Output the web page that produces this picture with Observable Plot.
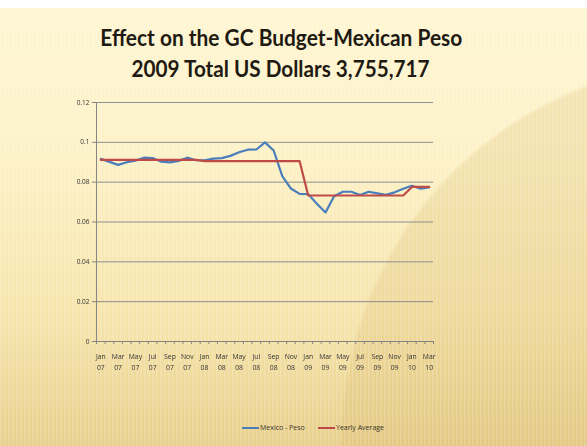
<!DOCTYPE html>
<html>
<head>
<meta charset="utf-8">
<script src="https://cdn.jsdelivr.net/npm/d3@7"></script>
<script src="https://cdn.jsdelivr.net/npm/@observablehq/plot@0.6"></script>
<style>
  html, body { margin: 0; padding: 0; }
  body { width: 587px; height: 446px; overflow: hidden; position: relative; font-family: "Open Sans", sans-serif; -webkit-font-smoothing: antialiased; }
  #bg { position: absolute; left: 0; top: 0; width: 587px; height: 446px;
    background:
      radial-gradient(circle 380px at 720px 440px, rgba(214,182,105,0.28) 0%, rgba(214,182,105,0.24) 99%, rgba(214,182,105,0) 100%),
      linear-gradient(180deg, #fef6d3 0%, #fdf1c6 35%, #f6e4ab 72%, #e8cf8c 100%);
  }
  #stripes { position: absolute; left: 0; top: 0; width: 587px; height: 446px;
    background: repeating-linear-gradient(90deg, rgba(255,255,255,0.18) 0px, rgba(255,255,255,0.18) 1px, rgba(255,255,255,0) 2px, rgba(255,255,255,0) 4px);
  }
  #topwhite { position: absolute; left: 0; top: 0; width: 587px; height: 8px; background: #ffffff; }
  .title { position: absolute; left: 0; width: 562px; text-align: center; font-family: Lato, "Open Sans", sans-serif; font-weight: 700; font-size: 23px; line-height: 23px; color: #1f1a12; white-space: nowrap; }
  .title span { display: inline-block; transform-origin: center; }
  #chart { position: absolute; left: 0; top: 90px; will-change: transform; }
  #chart svg text { fill: #333333; }
  #legend { position: absolute; top: 423px; left: 242px; font-size: 7px; color: #3a3328; height: 10px; }
  .item { position: absolute; top: 0; height: 10px; line-height: 10px; white-space: nowrap; }
  .sw { position: absolute; top: 4px; width: 17px; height: 2.2px; }
  .lbl { position: absolute; left: 18px; top: 0; }
</style>
</head>
<body>
<div id="bg"></div>
<div id="stripes"></div>
<div id="topwhite"></div>
<div class="title" style="top:26px"><span id="t1">Effect on the GC Budget-Mexican Peso</span></div>
<div class="title" style="top:57px"><span id="t2">2009 Total US Dollars 3,755,717</span></div>
<div id="chart"></div>
<div id="legend">
  <div class="item" style="left:0px"><div class="sw" style="background:#4a7ebb"></div><div class="lbl">Mexico - Peso</div></div>
  <div class="item" style="left:76px"><div class="sw" style="background:#be4b48"></div><div class="lbl">Yearly Average</div></div>
</div>
<script>
const months = [
  "Jan 07","Feb 07","Mar 07","Apr 07","May 07","Jun 07","Jul 07","Aug 07","Sep 07","Oct 07","Nov 07","Dec 07",
  "Jan 08","Feb 08","Mar 08","Apr 08","May 08","Jun 08","Jul 08","Aug 08","Sep 08","Oct 08","Nov 08","Dec 08",
  "Jan 09","Feb 09","Mar 09","Apr 09","May 09","Jun 09","Jul 09","Aug 09","Sep 09","Oct 09","Nov 09","Dec 09",
  "Jan 10","Feb 10","Mar 10"
];
const mexicoPeso = [
  0.0917, 0.0902, 0.0887, 0.0900, 0.0908, 0.0923, 0.0921, 0.0903, 0.0899, 0.0907, 0.0923, 0.0910,
  0.0910, 0.0918, 0.0921, 0.0932, 0.0950, 0.0963, 0.0964, 0.1000, 0.0959, 0.0830, 0.0768, 0.0741,
  0.0740, 0.0692, 0.0648, 0.0729, 0.0752, 0.0752, 0.0736, 0.0752, 0.0744, 0.0736, 0.0749, 0.0767,
  0.0782, 0.0767, 0.0774
];
const yearlyAverage = [
  0.0912, 0.0912, 0.0912, 0.0912, 0.0912, 0.0912, 0.0912, 0.0912, 0.0912, 0.0912, 0.0912, 0.0912,
  0.0906, 0.0906, 0.0906, 0.0906, 0.0906, 0.0906, 0.0906, 0.0906, 0.0906, 0.0906, 0.0906, 0.0906,
  0.0733, 0.0733, 0.0733, 0.0733, 0.0733, 0.0733, 0.0733, 0.0733, 0.0733, 0.0733, 0.0733, 0.0733,
  0.0776, 0.0776, 0.0776
];
const yTicks = [0, 0.02, 0.04, 0.06, 0.08, 0.1, 0.12];
const yTickLabels = ["0", "0.02", "0.04", "0.06", "0.08", "0.1", "0.12"];

const data = months.map((m, i) => ({i, month: m, peso: mexicoPeso[i], avg: yearlyAverage[i]}));
const n = months.length;
const boundaries = d3.range(n + 1).map(k => k - 0.5);
const labelIdx = d3.range(0, n, 2);

const chart = Plot.plot({
  width: 587,
  height: 300,
  marginLeft: 96,
  marginRight: 154,
  marginTop: 12,
  marginBottom: 49,
  style: {background: "transparent", fontFamily: "Open Sans", color: "#333"},
  x: {type: "linear", domain: [-0.5, n - 0.5]},
  y: {domain: [0, 0.12]},
  marks: [
    Plot.gridY(yTicks.slice(1), {stroke: "#8e8e8e", strokeOpacity: 1, strokeWidth: 1}),
    Plot.ruleX([-0.5], {stroke: "#868686", strokeWidth: 1}),
    Plot.ruleY([0], {stroke: "#868686", strokeWidth: 1}),
    Plot.axisY(yTicks, {tickSize: 4, tickPadding: 3, stroke: "#868686", fontSize: 6.5, tickFormat: (d, k) => yTickLabels[k], label: null}),
    Plot.axisX(boundaries, {tickSize: 3, stroke: "#868686", tickFormat: () => "", label: null}),
    Plot.axisX(labelIdx, {tickSize: 0, tickPadding: 10, fontSize: 6.8, lineHeight: 1.55, tickFormat: i => months[i].replace(" ", "\n"), label: null}),
    Plot.line(data, {x: "i", y: "peso", stroke: "#4a7ebb", strokeWidth: 2.2}),
    Plot.line(data, {x: "i", y: "avg", stroke: "#be4b48", strokeWidth: 2.2})
  ]
});
document.getElementById("chart").appendChild(chart);

function fit(id, target) {
  const el = document.getElementById(id);
  const w = el.getBoundingClientRect().width;
  if (w > 0) el.style.transform = `scaleX(${target / w})`;
}
fit("t1", 362);
fit("t2", 298);
</script>
</body>
</html>
